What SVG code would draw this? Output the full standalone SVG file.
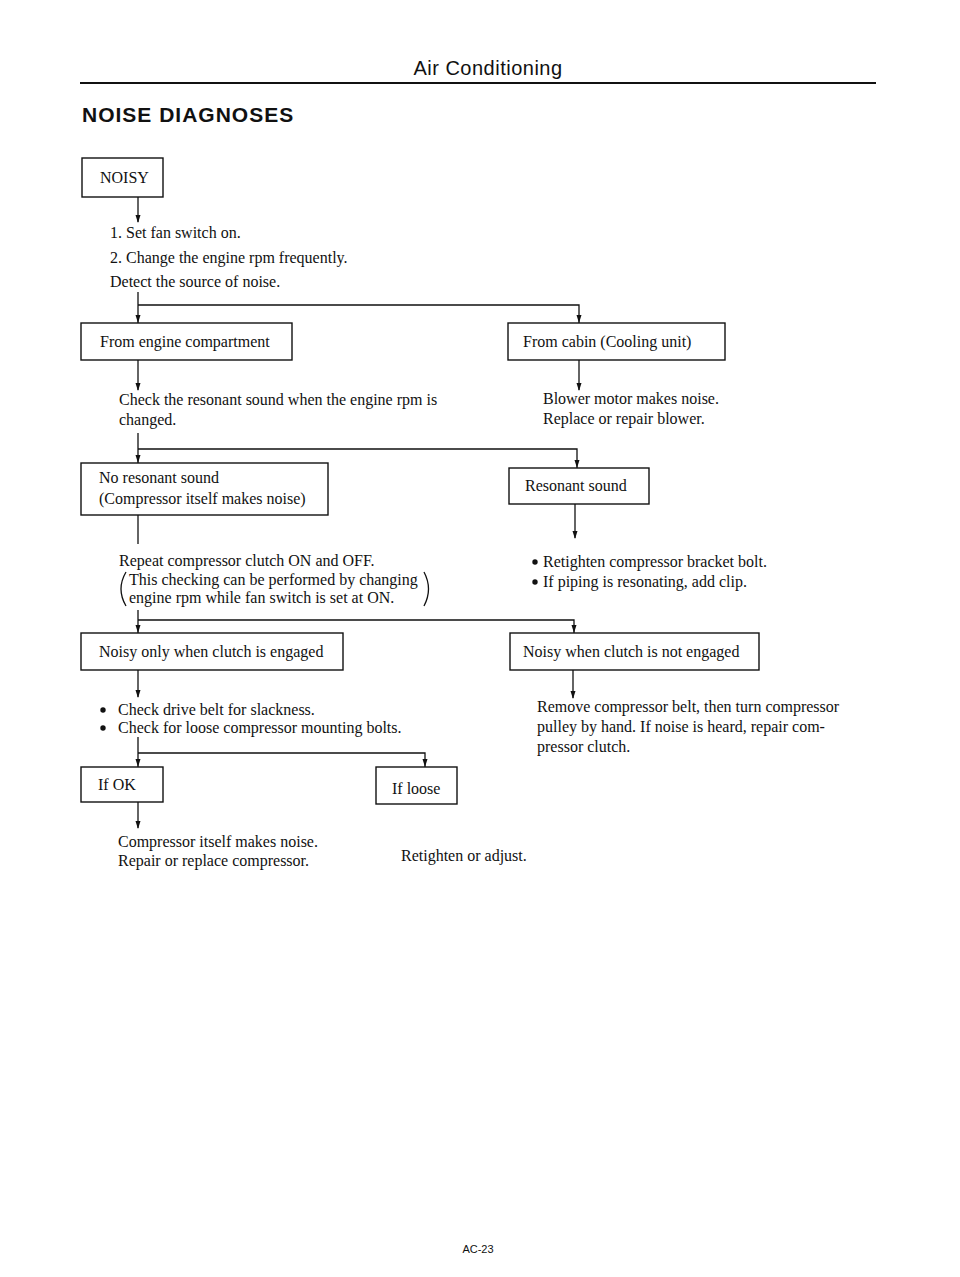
<svg xmlns="http://www.w3.org/2000/svg" width="960" height="1277" viewBox="0 0 960 1277">
<style>
.t{font-family:"Liberation Serif","Times New Roman",serif;font-size:16px;fill:#111}
.box{fill:none;stroke:#111;stroke-width:1.4}
.ln{fill:none;stroke:#111;stroke-width:1.3}
.hdr{font-family:"Liberation Sans",Arial,sans-serif;font-size:20px;fill:#111;letter-spacing:0.5px}
.ttl{font-family:"Liberation Sans",Arial,sans-serif;font-size:21px;font-weight:bold;fill:#111;letter-spacing:1px}
.ah{fill:#111}
</style>
<rect width="960" height="1277" fill="#fff"/>
<text class="hdr" x="488" y="75" text-anchor="middle">Air Conditioning</text>
<line x1="80" y1="83" x2="876" y2="83" stroke="#111" stroke-width="2"/>
<text class="ttl" x="82" y="122">NOISE DIAGNOSES</text>

<g id="connectors">
<path class="ln" d="M138,197 V222"/>
<path class="ln" d="M138,292 V323 M138,305 H579 V323"/>
<path class="ln" d="M138,360 V390"/>
<path class="ln" d="M579,360 V390"/>
<path class="ln" d="M138,433 V463 M138,449 H577 V468"/>
<path class="ln" d="M138,515 V544"/>
<path class="ln" d="M575,504 V538"/>
<path class="ln" d="M138,610 V633 M138,620 H574 V633"/>
<path class="ln" d="M138,670 V697"/>
<path class="ln" d="M573,670 V698"/>
<path class="ln" d="M138,737 V767 M138,753 H425 V767"/>
<path class="ln" d="M138,802 V828"/>
<g class="ah">
<path d="M135.5,215 h5 l-2.5,8z"/>
<path d="M135.5,315 h5 l-2.5,8z"/>
<path d="M576.5,315 h5 l-2.5,8z"/>
<path d="M135.5,383 h5 l-2.5,8z"/>
<path d="M576.5,383 h5 l-2.5,8z"/>
<path d="M135.5,455 h5 l-2.5,8z"/>
<path d="M574.5,460 h5 l-2.5,8z"/>
<path d="M572.5,531 h5 l-2.5,8z"/>
<path d="M135.5,625 h5 l-2.5,8z"/>
<path d="M571.5,625 h5 l-2.5,8z"/>
<path d="M135.5,690 h5 l-2.5,8z"/>
<path d="M570.5,691 h5 l-2.5,8z"/>
<path d="M135.5,759 h5 l-2.5,8z"/>
<path d="M422.5,759 h5 l-2.5,8z"/>
<path d="M135.5,821 h5 l-2.5,8z"/>
</g>
</g>

<g id="noisy">
<rect class="box" x="82" y="158" width="81" height="39"/>
<text class="t" x="100" y="183" font-size="15">NOISY</text>
</g>
<g id="steps">
<text class="t" x="110" y="238">1. Set fan switch on.</text>
<text class="t" x="110" y="263">2. Change the engine rpm frequently.</text>
<text class="t" x="110" y="287">Detect the source of noise.</text>
</g>
<g id="engine">
<rect class="box" x="81" y="323" width="211" height="37"/>
<text class="t" x="100" y="347">From engine compartment</text>
</g>
<g id="cabin">
<rect class="box" x="508" y="323" width="217" height="37"/>
<text class="t" x="523" y="347">From cabin (Cooling unit)</text>
</g>
<g id="check-resonant">
<text class="t" x="119" y="405">Check the resonant sound when the engine rpm is</text>
<text class="t" x="119" y="425">changed.</text>
</g>
<g id="blower">
<text class="t" x="543" y="404">Blower motor makes noise.</text>
<text class="t" x="543" y="424">Replace or repair blower.</text>
</g>
<g id="no-resonant">
<rect class="box" x="81" y="463" width="247" height="52"/>
<text class="t" x="99" y="483">No resonant sound</text>
<text class="t" x="99" y="504">(Compressor itself makes noise)</text>
</g>
<g id="resonant">
<rect class="box" x="509" y="468" width="140" height="36"/>
<text class="t" x="525" y="491">Resonant sound</text>
</g>
<g id="repeat">
<text class="t" x="119" y="566">Repeat compressor clutch ON and OFF.</text>
<text class="t" x="129" y="585">This checking can be performed by changing</text>
<text class="t" x="129" y="603">engine rpm while fan switch is set at ON.</text>
<path class="ln" d="M126,572 Q116,589 126,606" stroke-width="1"/>
<path class="ln" d="M424,572 Q433,589 424,606" stroke-width="1"/>
</g>
<g id="retighten-bracket">
<circle cx="535" cy="562" r="2.7" fill="#111"/>
<text class="t" x="543" y="567">Retighten compressor bracket bolt.</text>
<circle cx="535" cy="582" r="2.7" fill="#111"/>
<text class="t" x="543" y="587">If piping is resonating, add clip.</text>
</g>
<g id="engaged">
<rect class="box" x="81" y="633" width="262" height="37"/>
<text class="t" x="99" y="657">Noisy only when clutch is engaged</text>
</g>
<g id="not-engaged">
<rect class="box" x="510" y="633" width="249" height="37"/>
<text class="t" x="523" y="657">Noisy when clutch is not engaged</text>
</g>
<g id="check-belt">
<circle cx="103" cy="710" r="2.7" fill="#111"/>
<text class="t" x="118" y="715">Check drive belt for slackness.</text>
<circle cx="103" cy="728" r="2.7" fill="#111"/>
<text class="t" x="118" y="733">Check for loose compressor mounting bolts.</text>
</g>
<g id="remove-belt">
<text class="t" x="537" y="712">Remove compressor belt, then turn compressor</text>
<text class="t" x="537" y="732">pulley by hand.  If noise is heard, repair com-</text>
<text class="t" x="537" y="752">pressor clutch.</text>
</g>
<g id="if-ok">
<rect class="box" x="81" y="767" width="82" height="35"/>
<text class="t" x="98" y="790">If OK</text>
</g>
<g id="if-loose">
<rect class="box" x="376" y="767" width="81" height="37"/>
<text class="t" x="392" y="794">If loose</text>
</g>
<g id="compressor-noise">
<text class="t" x="118" y="847">Compressor itself makes noise.</text>
<text class="t" x="118" y="866">Repair or replace compressor.</text>
</g>
<g id="retighten">
<text class="t" x="401" y="861">Retighten or adjust.</text>
</g>
<text x="478" y="1253" text-anchor="middle" font-family="Liberation Sans,Arial,sans-serif" font-size="11" fill="#111">AC-23</text>
</svg>
